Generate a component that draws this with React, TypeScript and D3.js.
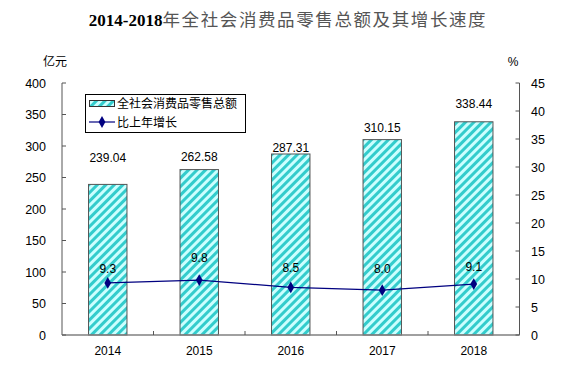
import React from "react";
import * as d3 from "d3";

const years = ["2014", "2015", "2016", "2017", "2018"];
const sales = [239.04, 262.58, 287.31, 310.15, 338.44];
const growth = [9.3, 9.8, 8.5, 8.0, 9.1];
const leftTicks = [0, 50, 100, 150, 200, 250, 300, 350, 400];
const rightTicks = [0, 5, 10, 15, 20, 25, 30, 35, 40, 45];
const salesLabelDy = [22, 9, 2, 8, 14];
const growthLabelDy = [10, 18, 15, 17, 13];

const W = 576, H = 377;
const L = 62, R = 519.5, T = 83, B = 335;
const sansFont = "'Liberation Sans', Arial, sans-serif";
const cjkFont = "'Noto Sans CJK SC', sans-serif";

export default function App() {
  const x = d3.scaleBand().domain(years).range([L, R]).paddingInner(0.58).paddingOuter(0.29);
  const yL = d3.scaleLinear().domain([0, 400]).range([B, T]);
  const yR = d3.scaleLinear().domain([0, 45]).range([B, T]);
  const step = (R - L) / years.length;
  const cx = (i: number) => (x(years[i]) as number) + x.bandwidth() / 2;
  const line = d3.line<number>().x((_, i) => cx(i)).y((d) => yR(d));
  const axisColor = "#808080";

  return (
    <svg width={W} height={H} style={{ position: "absolute", left: 0, top: 0, background: "#fff" }}>
      <defs>
        <pattern id="hatch" patternUnits="userSpaceOnUse" width="6" height="6" patternTransform="rotate(45)">
          <rect width="6" height="6" fill="#ccffff" />
          <rect width="3" height="6" fill="#33cccc" />
        </pattern>
      </defs>
      <rect width={W} height={H} fill="#fff" />
      <text x={288} y={26} textAnchor="middle" fontSize={17}>
        <tspan fontFamily="'Liberation Serif', serif" fontWeight="bold" fill="#000">2014-2018</tspan>
        <tspan fontFamily={cjkFont} fill="#555" letterSpacing={1.6} fontSize={17.5}>年全社会消费品零售总额及其增长速度</tspan>
      </text>
      <text x={55} y={66} textAnchor="middle" fontFamily={cjkFont} fontSize={12}>亿元</text>
      <text x={513} y={66} textAnchor="middle" fontFamily={sansFont} fontSize={12}>%</text>

      {sales.map((v, i) => (
        <rect key={"b" + i} x={x(years[i])} y={yL(v)} width={x.bandwidth()} height={B - yL(v)}
          fill="url(#hatch)" stroke="#555" strokeWidth={1} />
      ))}

      {/* axes */}
      <line x1={L} x2={L} y1={T} y2={B} stroke="#555" />
      <line x1={R} x2={R} y1={T} y2={B} stroke="#555" />
      <line x1={L} x2={R} y1={B} y2={B} stroke={axisColor} strokeWidth={1.5} />
      {leftTicks.map((t) => (
        <g key={"lt" + t}>
          <line x1={L} x2={L + 4} y1={yL(t)} y2={yL(t)} stroke="#555" />
          <text x={46} y={yL(t) + 4.5} textAnchor="end" fontFamily={sansFont} fontSize={12.5}>{t}</text>
        </g>
      ))}
      {rightTicks.map((t) => (
        <g key={"rt" + t}>
          <line x1={R - 4} x2={R} y1={yR(t)} y2={yR(t)} stroke="#555" />
          <text x={531} y={yR(t) + 4.5} textAnchor="start" fontFamily={sansFont} fontSize={12.5}>{t}</text>
        </g>
      ))}
      {years.slice(1).map((_, i) => (
        <line key={"xt" + i} x1={L + step * (i + 1)} x2={L + step * (i + 1)} y1={B} y2={B - 4} stroke="#555" />
      ))}
      {years.map((yr, i) => (
        <text key={"xl" + i} x={cx(i)} y={355} textAnchor="middle" fontFamily={sansFont} fontSize={12}>{yr}</text>
      ))}

      {sales.map((v, i) => (
        <text key={"sl" + i} x={cx(i)} y={yL(v) - salesLabelDy[i]} textAnchor="middle" fontFamily={sansFont} fontSize={12}>
          {v.toFixed(2)}
        </text>
      ))}

      <path d={line(growth) || ""} fill="none" stroke="#000080" strokeWidth={1.2} />
      {growth.map((v, i) => (
        <path key={"m" + i} d={d3.symbol(d3.symbolDiamond, 40)() || ""} transform={`translate(${cx(i)},${yR(v)})`} fill="#000080" />
      ))}
      {growth.map((v, i) => (
        <text key={"gl" + i} x={cx(i)} y={yR(v) - growthLabelDy[i]} textAnchor="middle" fontFamily={sansFont} fontSize={12}>
          {v.toFixed(1)}
        </text>
      ))}

      {/* legend */}
      <rect x={85.5} y={94.5} width={160} height={38} fill="#fff" stroke="#000" />
      <rect x={89.5} y={100.5} width={25} height={6} fill="url(#hatch)" stroke="#333" />
      <text x={117} y={108} fontFamily={cjkFont} fontSize={12}>全社会消费品零售总额</text>
      <line x1={89} x2={115} y1={122} y2={122} stroke="#000080" strokeWidth={1.2} />
      <path d={d3.symbol(d3.symbolDiamond, 40)() || ""} transform="translate(102,122)" fill="#000080" />
      <text x={117} y={127} fontFamily={cjkFont} fontSize={12}>比上年增长</text>
    </svg>
  );
}
